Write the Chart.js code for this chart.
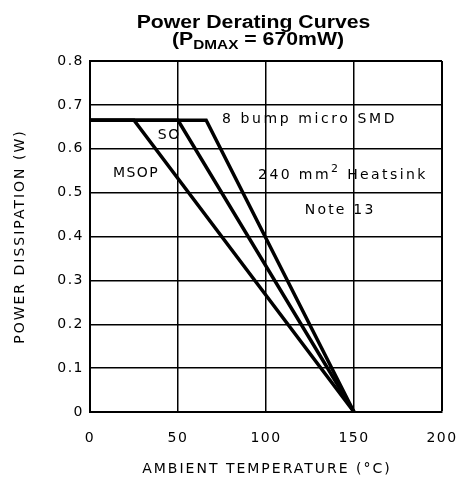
<!DOCTYPE html>
<html>
<head>
<meta charset="utf-8">
<script src="https://cdn.jsdelivr.net/npm/chart.js@4.4.1/dist/chart.umd.min.js"></script>
<style>
  html, body { margin: 0; padding: 0; background: #fff; }
  #c { display: block; }
</style>
</head>
<body>
<canvas id="c" width="458" height="484"></canvas>
<script>
// ---- data ----
const xTickValues = [0, 50, 100, 150, 200];
const xTickLabels = ['0', '50', '100', '150', '200'];
const yTickValues = [0, 0.1, 0.2, 0.3, 0.4, 0.5, 0.6, 0.7, 0.8];
const yTickLabels = ['0', '0.1', '0.2', '0.3', '0.4', '0.5', '0.6', '0.7', '0.8'];

const smdTemp = [0, 66, 150];
const smdPower = [0.665, 0.665, 0];
const soTemp = [0, 50, 150];
const soPower = [0.665, 0.665, 0];
const msopTemp = [0, 25, 150];
const msopPower = [0.665, 0.665, 0];

const titleText = 'Power Derating Curves';
const xAxisTitle = 'AMBIENT TEMPERATURE (°C)';
const yAxisTitle = 'POWER DISSIPATION (W)';

// annotation labels, anchored in data units
const labels = [
  { text: '8 bump micro SMD', x: 75, y: 0.668, sp: 2.6 },
  { text: 'SO', x: 38.5, y: 0.631, sp: 1.5 },
  { text: 'MSOP', x: 13, y: 0.545, sp: 1.5 },
  { text: 'Note 13', x: 122, y: 0.46, sp: 2.2 }
];
const heatsinkLabel = { pre: '240 mm', sup: '2', post: ' Heatsink', x: 95.5, y: 0.54, sp: 2.4 };

function pts(xs, ys) { return xs.map((x, i) => ({ x: x, y: ys[i] })); }

const FONT = '"DejaVu Sans", sans-serif';

const textPlugin = {
  id: 'texts',
  beforeDraw(chart) {
    chart.ctx.letterSpacing = '1.5px';
  },
  afterDraw(chart) {
    const ctx = chart.ctx;
    const xs = chart.scales.x, ys = chart.scales.y;
    const ca = chart.chartArea;
    ctx.save();
    ctx.fillStyle = '#000';
    // annotations
    ctx.font = '14px ' + FONT;
    ctx.textAlign = 'left';
    ctx.textBaseline = 'middle';
    labels.forEach(l => {
      ctx.letterSpacing = l.sp + 'px';
      ctx.fillText(l.text, xs.getPixelForValue(l.x), ys.getPixelForValue(l.y));
    });
    // heatsink with superscript
    ctx.letterSpacing = heatsinkLabel.sp + 'px';
    let hx = xs.getPixelForValue(heatsinkLabel.x);
    const hy = ys.getPixelForValue(heatsinkLabel.y);
    ctx.fillText(heatsinkLabel.pre, hx, hy);
    hx += ctx.measureText(heatsinkLabel.pre).width;
    ctx.font = '11px ' + FONT;
    ctx.fillText(heatsinkLabel.sup, hx, hy - 6);
    hx += ctx.measureText(heatsinkLabel.sup).width;
    ctx.font = '14px ' + FONT;
    ctx.fillText(heatsinkLabel.post, hx, hy);

    // axis titles
    ctx.letterSpacing = '2px';
    ctx.textAlign = 'center';
    ctx.fillText(xAxisTitle, (ca.left + ca.right) / 2 + 1, 469);
    ctx.save();
    ctx.translate(20, (ca.top + ca.bottom) / 2);
    ctx.rotate(-Math.PI / 2);
    ctx.fillText(yAxisTitle, 0, 0);
    ctx.restore();

    // chart title (bold, slightly widened)
    ctx.letterSpacing = '0px';
    const sx = 1.18;
    ctx.save();
    ctx.scale(sx, 1);
    ctx.font = 'bold 18px "Liberation Sans", Arial, sans-serif';
    ctx.textAlign = 'center';
    ctx.textBaseline = 'alphabetic';
    ctx.fillText(titleText, 253.5 / sx, 28);
    ctx.textAlign = 'left';
    let tx = 172 / sx;
    const seg = [
      { t: '(P', f: 'bold 18px', dy: 0 },
      { t: 'DMAX', f: 'bold 13px', dy: 4 },
      { t: ' = 670mW)', f: 'bold 18px', dy: 0 }
    ];
    seg.forEach(s => {
      ctx.font = s.f + ' "Liberation Sans", Arial, sans-serif';
      ctx.fillText(s.t, tx, 45 + s.dy);
      tx += ctx.measureText(s.t).width;
    });
    ctx.restore();
    ctx.restore();
  }
};

const lineStyle = {
  borderColor: '#000',
  borderWidth: 3.5,
  pointRadius: 0,
  tension: 0,
  fill: false,
  borderJoinStyle: 'miter',
  borderCapStyle: 'butt'
};

new Chart(document.getElementById('c'), {
  type: 'line',
  data: {
    datasets: [
      Object.assign({ label: '8 bump micro SMD', data: pts(smdTemp, smdPower) }, lineStyle),
      Object.assign({ label: 'SO', data: pts(soTemp, soPower) }, lineStyle),
      Object.assign({ label: 'MSOP', data: pts(msopTemp, msopPower) }, lineStyle)
    ]
  },
  options: {
    responsive: false,
    devicePixelRatio: 1,
    animation: false,
    layout: { padding: { top: 61, right: 16, left: 0, bottom: 0 } },
    plugins: { legend: { display: false }, title: { display: false }, tooltip: { enabled: false } },
    scales: {
      x: {
        type: 'linear',
        min: 0, max: 200,
        afterBuildTicks(s) { s.ticks = xTickValues.map(v => ({ value: v })); },
        afterFit(s) { s.height = 72; s.paddingLeft = 0; s.paddingRight = 0; },
        ticks: {
          color: '#000',
          font: { family: FONT, size: 14 },
          padding: 18,
          maxRotation: 0,
          callback: (v, i) => xTickLabels[i]
        },
        grid: {
          color: '#000',
          drawTicks: false,
          lineWidth: c => (c.index === xTickValues.length - 1 ? 2 : 1.5)
        },
        border: { display: true, color: '#000', width: 2 }
      },
      y: {
        type: 'linear',
        min: 0, max: 0.8,
        afterBuildTicks(s) { s.ticks = yTickValues.map(v => ({ value: v })); },
        afterFit(s) { s.width = 90; s.paddingTop = 0; s.paddingBottom = 0; },
        ticks: {
          color: '#000',
          font: { family: FONT, size: 14 },
          padding: 6,
          callback: (v, i) => yTickLabels[i]
        },
        grid: {
          color: '#000',
          drawTicks: false,
          lineWidth: c => (c.index === yTickValues.length - 1 ? 2 : 1.5)
        },
        border: { display: true, color: '#000', width: 2 }
      }
    }
  },
  plugins: [textPlugin]
});
</script>
</body>
</html>
